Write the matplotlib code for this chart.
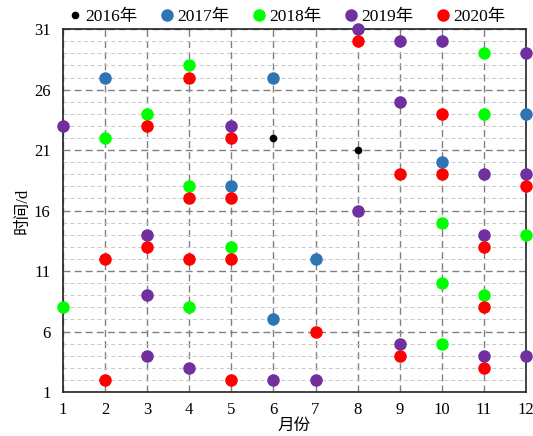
import matplotlib
matplotlib.use("Agg")
import matplotlib.pyplot as plt

plt.rcParams['font.family'] = ['Liberation Serif', 'Noto Sans CJK SC', 'DejaVu Sans']

years = ['2016年', '2017年', '2018年', '2019年', '2020年']
colors = ['#000000', '#2e75b6', '#00ff00', '#7030a0', '#ff0000']

m2016 = [6, 8]
d2016 = [22, 21]
m2017 = [2, 6, 5, 10, 12, 7, 6]
d2017 = [27, 27, 18, 20, 24, 12, 7]
m2018 = [4, 3, 2, 4, 5, 1, 4, 11, 11, 10, 12, 10, 11, 10]
d2018 = [28, 24, 22, 18, 13, 8, 8, 29, 24, 15, 14, 10, 9, 5]
m2019 = [1, 5, 8, 9, 10, 12, 9, 11, 12, 8, 3, 11, 3, 3, 4, 6, 7, 9, 11, 12]
d2019 = [23, 23, 31, 30, 30, 29, 25, 19, 19, 16, 14, 14, 9, 4, 3, 2, 2, 5, 4, 4]
m2020 = [4, 3, 5, 4, 5, 2, 3, 4, 5, 8, 10, 9, 10, 12, 11, 11, 7, 9, 11, 2, 5]
d2020 = [27, 23, 22, 17, 17, 12, 13, 12, 12, 30, 24, 19, 19, 18, 13, 8, 6, 4, 3, 2, 2]

series = [(m2016, d2016), (m2017, d2017), (m2018, d2018), (m2019, d2019), (m2020, d2020)]
sizes = [4.5, 8, 8, 8, 8]

fig = plt.figure(figsize=(5.33, 4.36), dpi=100)
ax = fig.add_axes([0.118, 0.101, 0.869, 0.832])

ax.set_xlim(1, 12)
ax.set_ylim(1, 31)
ax.set_xticks(range(1, 13))
ax.set_yticks([1, 6, 11, 16, 21, 26, 31])
ax.set_yticks(range(1, 32), minor=True)
ax.grid(True, which='minor', axis='y', color='#c8c8c8', linestyle=(0, (4, 3)), linewidth=0.7)
ax.grid(True, which='major', axis='both', color='#808080', linestyle=(0, (5, 3)), linewidth=1.0)
ax.tick_params(which='both', length=0, labelsize=12, pad=7)
ax.tick_params(axis='y', pad=9)
ax.set_axisbelow(True)
for s in ax.spines.values():
    s.set_color('#222222')
    s.set_linewidth(1.2)

handles = []
for (mx, dy), c, ms, lab in zip(series, colors, sizes, years):
    h, = ax.plot(mx, dy, 'o', color=c, markersize=ms, linestyle='none', label=lab, clip_on=False, zorder=3)
    handles.append(h)

ax.set_xlabel('月份', fontsize=12, labelpad=0)
ax.set_ylabel('时间/d', fontsize=12, labelpad=2)

fig.legend(handles=handles, loc='upper center', bbox_to_anchor=(0.535, 1.015), ncol=5, frameon=False,
           fontsize=12.5, handletextpad=0.0, columnspacing=1.1, handlelength=1.2)

fig.savefig('out.png', dpi=100)
